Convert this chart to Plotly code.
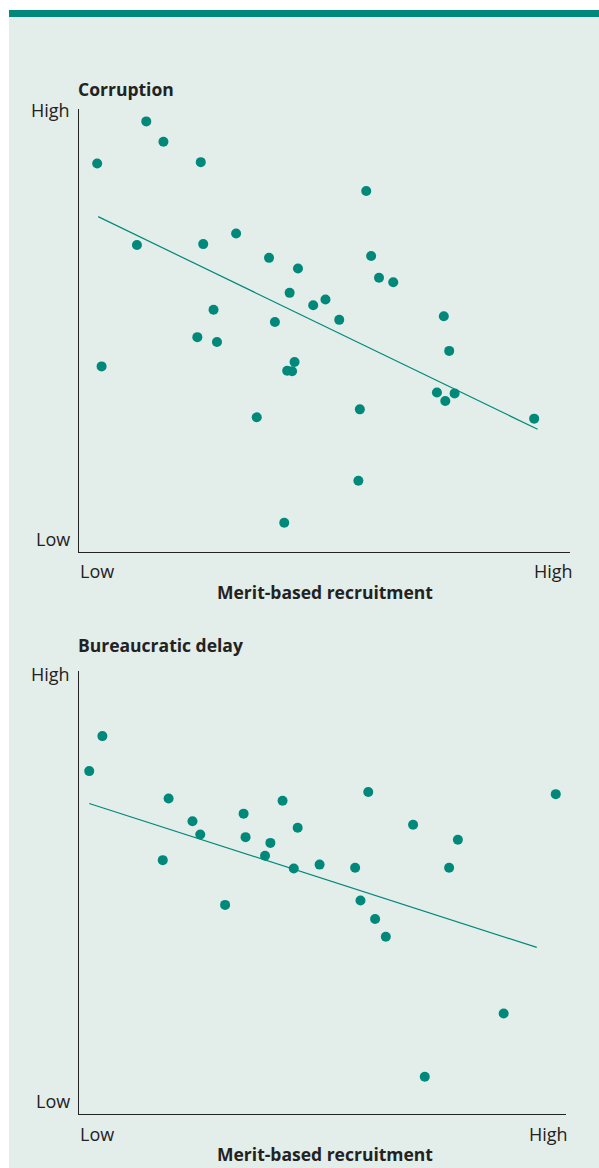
import plotly.graph_objects as go

# ---------------- Data (scale 0 = Low, 100 = High) ----------------
corr_x = [13.7, 17.2, 3.7, 24.8, 32.0, 11.8, 25.3, 27.4, 24.1, 28.1, 4.6,
          58.5, 38.7, 59.5, 44.6, 61.1, 64.0, 42.9, 47.7, 50.2, 39.9, 53.0,
          43.9, 42.4, 43.4, 36.2, 57.2, 56.9, 41.8,
          74.3, 75.4, 72.9, 76.5, 74.6, 92.7]
corr_y = [97.2, 92.6, 87.7, 88.0, 71.9, 69.3, 69.5, 54.7, 48.5, 47.4, 41.9,
          81.5, 66.4, 66.8, 64.0, 61.9, 60.9, 58.5, 55.7, 57.0, 51.9, 52.4,
          42.9, 40.9, 40.8, 30.4, 32.2, 16.1, 6.6,
          53.2, 45.4, 36.0, 35.8, 34.1, 30.1]
corr_trend_x = [3.9, 93.4]
corr_trend_y = [75.7, 27.7]

delay_x = [4.8, 2.1, 18.4, 23.3, 24.9, 17.2, 30.0, 33.8, 34.2, 41.8, 59.4,
           44.9, 39.3, 38.2, 44.1, 49.4, 56.7, 57.8, 60.8, 63.0, 68.6, 97.9,
           77.8, 76.0, 87.2, 71.0]
delay_y = [85.3, 77.4, 71.2, 66.1, 63.1, 57.3, 47.2, 67.8, 62.5, 70.7, 72.7,
           64.6, 61.2, 58.3, 55.4, 56.3, 55.6, 48.2, 44.0, 40.0, 65.3, 72.2,
           61.9, 55.6, 22.7, 8.4]
delay_trend_x = [2.1, 94.0]
delay_trend_y = [70.1, 37.6]

titles = ["Corruption", "Bureaucratic delay"]
x_title = "Merit-based recruitment"
tick_low, tick_high = "Low", "High"

# ---------------- Styling ----------------
W, H = 599, 1168
TEAL = "#00897a"
BG = "#e3ede9"
TXT = "#222222"
FONT = "Open Sans"
FS = 18          # Low / High labels
FT = 17.5        # bold titles

def py(p):  # screen pixel y -> paper y
    return 1 - p / H

def px(p):  # screen pixel x -> paper x
    return p / W

fig = go.Figure()

fig.add_trace(go.Scatter(x=corr_x, y=corr_y, mode="markers",
                         marker=dict(color=TEAL, size=10), xaxis="x", yaxis="y",
                         showlegend=False, hoverinfo="skip"))
fig.add_trace(go.Scatter(x=corr_trend_x, y=corr_trend_y, mode="lines",
                         line=dict(color=TEAL, width=1.2), xaxis="x", yaxis="y",
                         showlegend=False, hoverinfo="skip"))
fig.add_trace(go.Scatter(x=delay_x, y=delay_y, mode="markers",
                         marker=dict(color=TEAL, size=10), xaxis="x2", yaxis="y2",
                         showlegend=False, hoverinfo="skip"))
fig.add_trace(go.Scatter(x=delay_trend_x, y=delay_trend_y, mode="lines",
                         line=dict(color=TEAL, width=1.2), xaxis="x2", yaxis="y2",
                         showlegend=False, hoverinfo="skip"))

axis_common = dict(range=[0, 100], showgrid=False, zeroline=False,
                   showticklabels=False, ticks="", showline=True,
                   linecolor=TXT, linewidth=1.3, fixedrange=True)

fig.update_layout(
    width=W, height=H,
    margin=dict(l=0, r=0, t=0, b=0),
    paper_bgcolor="white", plot_bgcolor="rgba(0,0,0,0)",
    font=dict(family=FONT, color=TXT, size=FS),
    xaxis=dict(domain=[px(79), px(570)], anchor="y", **axis_common),
    yaxis=dict(domain=[py(552), py(109)], anchor="x", **axis_common),
    xaxis2=dict(domain=[px(79), px(566)], anchor="y2", **axis_common),
    yaxis2=dict(domain=[py(1114), py(671)], anchor="x2", **axis_common),
)

fig.add_shape(type="rect", xref="paper", yref="paper",
              x0=px(9), x1=1, y0=0, y1=py(10),
              fillcolor=BG, line=dict(width=0), layer="below")
fig.add_shape(type="rect", xref="paper", yref="paper",
              x0=px(9), x1=1, y0=py(17), y1=py(10),
              fillcolor=TEAL, line=dict(width=0), layer="below")

def ann(text, x, y, xanchor="left", bold=False, size=FS, yanchor="middle"):
    fig.add_annotation(text=f"<b>{text}</b>" if bold else text,
                       xref="paper", yref="paper", x=px(x), y=py(y),
                       xanchor=xanchor, yanchor=yanchor, showarrow=False,
                       font=dict(family=FONT, size=size, color=TXT))

ann(titles[0], 76, 89, bold=True, size=FT)
ann(tick_high, 72, 110, xanchor="right")
ann(tick_low, 72, 539, xanchor="right")
ann(tick_low, 78, 571)
ann(tick_high, 575, 571, xanchor="right")
ann(x_title, 325, 592, xanchor="center", bold=True, size=FT)

ann(titles[1], 76, 645, bold=True, size=FT)
ann(tick_high, 72, 674, xanchor="right")
ann(tick_low, 72, 1101, xanchor="right")
ann(tick_low, 78, 1134)
ann(tick_high, 570, 1134, xanchor="right")
ann(x_title, 325, 1168, xanchor="center", bold=True, size=FT, yanchor="bottom")

# remove the default page margin so the figure fills the window exactly
fig.write_html("out.html",
               config={"displayModeBar": False, "staticPlot": True},
               post_script="document.body.style.margin='0';"
                           "document.body.style.overflow='hidden';")
